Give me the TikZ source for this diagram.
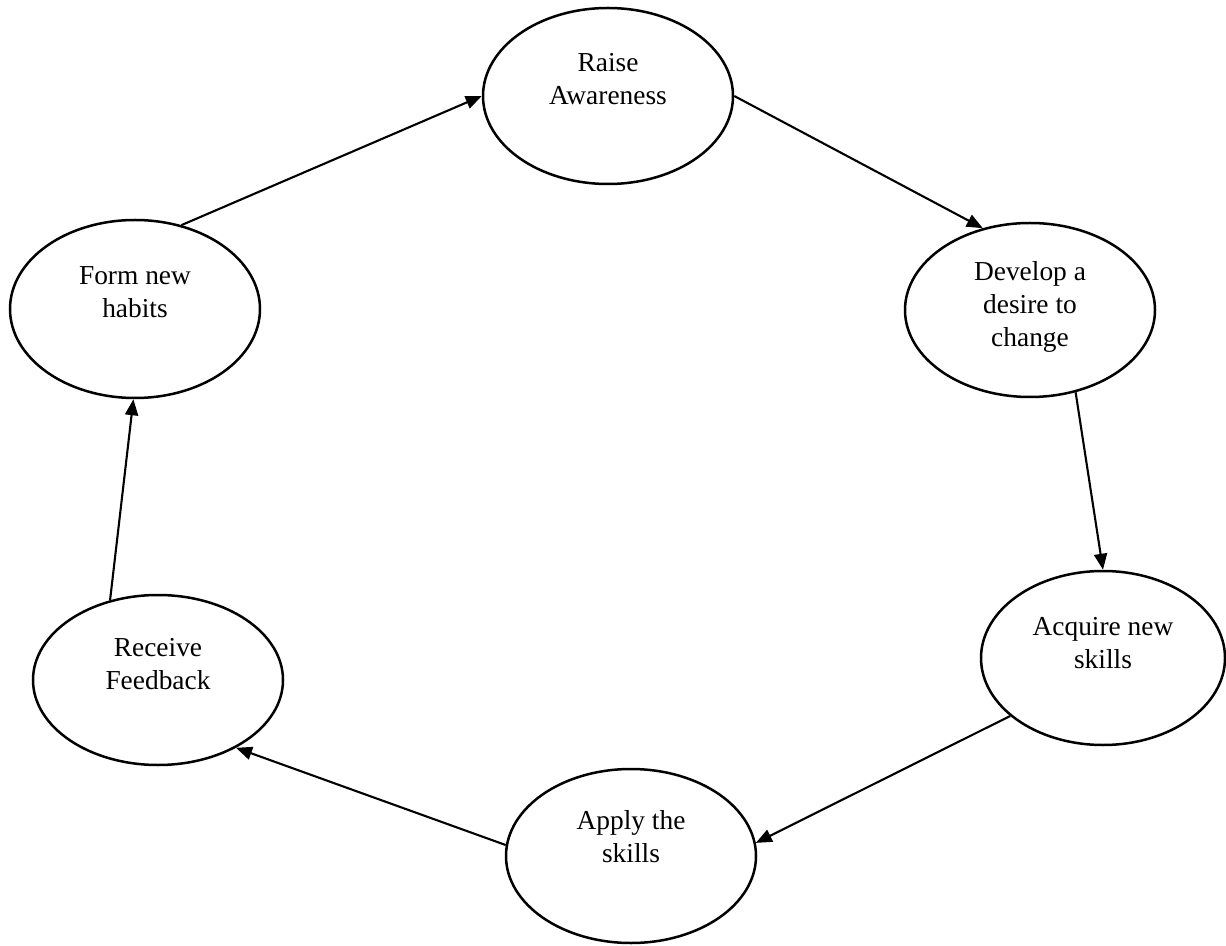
\documentclass[tikz,border=0pt]{standalone}
\usepackage{fontspec}
\setmainfont{Liberation Serif}
\usetikzlibrary{arrows.meta,shapes.geometric}
\newcommand{\eltext}[2]{\raisebox{#1}[0pt][0pt]{\begin{tabular}{@{}c@{}}#2\end{tabular}}}
\tikzset{
  stage/.style={ellipse, draw, line width=1.25pt, minimum width=125pt, minimum height=87pt, inner sep=0pt,
    font=\fontsize{13.7pt}{16.5pt}\selectfont},
  flow/.style={line width=1.05pt, -{Triangle[length=8pt,width=6.5pt]}}
}
\begin{document}
\begin{tikzpicture}[x=0.5pt,y=-0.5pt]
\useasboundingbox (0,0) rectangle (1226,946);
\renewcommand{\arraystretch}{1.0}
\node[stage, minimum height=88pt] (raise) at (608,96) {\eltext{3.6pt}{Raise\\Awareness}};
\node[stage] (develop) at (1030,310) {\eltext{-1.9pt}{Develop a\\desire to\\change}};
\node[stage, minimum width=122pt] (acquire) at (1103,658) {\eltext{2.6pt}{Acquire new\\skills}};
\node[stage] (apply) at (631,856) {\eltext{4.6pt}{Apply the\\skills}};
\node[stage, minimum height=85pt] (receive) at (158,680) {\eltext{3.4pt}{Receive\\Feedback}};
\node[stage, minimum height=89pt] (form) at (135,309) {\eltext{3.8pt}{Form new\\habits}};
\draw[flow] (form.61) -- (raise.180);
\draw[flow] (raise.0) -- (develop.120);
\draw[flow] (develop.-61) -- (acquire.90);
\draw[flow] (acquire.-148) -- (apply.6);
\draw[flow] (apply.175) -- (receive.-41);
\draw[flow] (receive.121) -- (form.-91);
\end{tikzpicture}
\end{document}
